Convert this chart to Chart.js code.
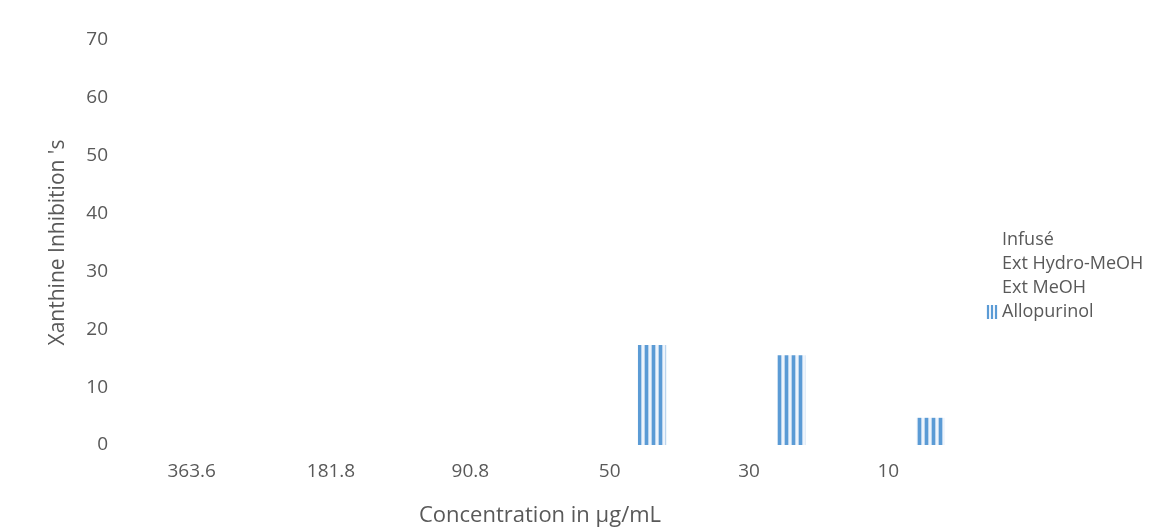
<!DOCTYPE html>
<html>
<head>
<meta charset="utf-8">
<script src="https://cdn.jsdelivr.net/npm/chart.js@4.4.1/dist/chart.umd.min.js"></script>
<style>
    html, body { margin: 0; padding: 0; background: #fff; }
    #wrap { position: relative; width: 1176px; height: 529px; }
    #legend {
        position: absolute; left: 986px; top: 226px;
        font: 18px 'Open Sans', sans-serif; color: #595959;
    }
    #legend .row { height: 24px; line-height: 24px; white-space: nowrap; }
    #legend .sw { display: inline-block; width: 12px; height: 14px; margin-right: 4px; vertical-align: -2px; }
</style>
</head>
<body>
<div id="wrap">
    <canvas id="chart" width="1176" height="529"></canvas>
    <div id="legend"></div>
</div>
<script>
// ===== Data =====
const categories = ['363.6', '181.8', '90.8', '50', '30', '10'];
const seriesNames = ['Infusé', 'Ext Hydro-MeOH', 'Ext MeOH', 'Allopurinol'];
const infuse = [null, null, null, null, null, null];
const extHydroMeoh = [null, null, null, null, null, null];
const extMeoh = [null, null, null, null, null, null];
const allopurinol = [null, null, null, 17.3, 15.5, 4.7];
const yTicks = [0, 10, 20, 30, 40, 50, 60, 70];

const textGrey = '#595959';
const font = "'Open Sans', sans-serif";

// vertical stripes like the excel pattern fill
function stripes() {
    const c = document.createElement('canvas');
    c.width = 7; c.height = 4;
    const g = c.getContext('2d');
    g.fillStyle = '#eef4fb'; g.fillRect(0, 0, 7, 4);
    g.fillStyle = '#bcd5ee'; g.fillRect(0, 0, 1, 4); g.fillRect(4, 0, 1, 4);
    g.fillStyle = '#5b9bd5'; g.fillRect(1, 0, 3, 4);
    return document.getElementById('chart').getContext('2d').createPattern(c, 'repeat');
}
const pat = stripes();

const datasets = [
    { label: seriesNames[0], data: infuse, backgroundColor: 'rgba(0,0,0,0)' },
    { label: seriesNames[1], data: extHydroMeoh, backgroundColor: 'rgba(0,0,0,0)' },
    { label: seriesNames[2], data: extMeoh, backgroundColor: 'rgba(0,0,0,0)' },
    { label: seriesNames[3], data: allopurinol, backgroundColor: pat }
];

const chart = new Chart(document.getElementById('chart'), {
    type: 'bar',
    data: { labels: categories, datasets },
    options: {
        responsive: false,
        animation: false,
        datasets: { bar: { categoryPercentage: 0.81, barPercentage: 1.0 } },
        layout: { padding: { top: 40, right: 218, bottom: 0, left: 0 } },
        plugins: { legend: { display: false }, tooltip: { enabled: false } },
        scales: {
            x: {
                grid: { display: false, drawTicks: false },
                border: { display: false },
                ticks: { color: textGrey, font: { family: font, size: 19 }, padding: 15 },
                title: { display: true, text: 'Concentration in µg/mL', color: textGrey,
                         font: { family: font, size: 22 }, padding: { top: 0, bottom: 0 } },
                afterFit: s => { s.height = 84; }
            },
            y: {
                min: 0, max: 70,
                grid: { display: false, drawTicks: false },
                border: { display: false },
                afterBuildTicks: s => { s.ticks = yTicks.map(v => ({ value: v })); },
                ticks: { color: textGrey, font: { family: font, size: 19 }, padding: 14 },
                title: { display: true, text: "Xanthine Inhibition 's", color: textGrey,
                         font: { family: font, size: 21 }, padding: { top: 45, bottom: 0 } },
                afterFit: s => { s.width = 122; }
            }
        }
    }
});

// ===== Legend =====
const box = document.getElementById('legend');
datasets.forEach(ds => {
    const row = document.createElement('div');
    row.className = 'row';
    const sw = document.createElement('span');
    sw.className = 'sw';
    if (ds.backgroundColor === pat) {
        sw.style.background = 'repeating-linear-gradient(90deg,#eef4fb 0 1px,#5b9bd5 1px 3px,#eef4fb 3px 4px)';
    }
    row.appendChild(sw);
    row.appendChild(document.createTextNode(ds.label));
    box.appendChild(row);
});
</script>
</body>
</html>
